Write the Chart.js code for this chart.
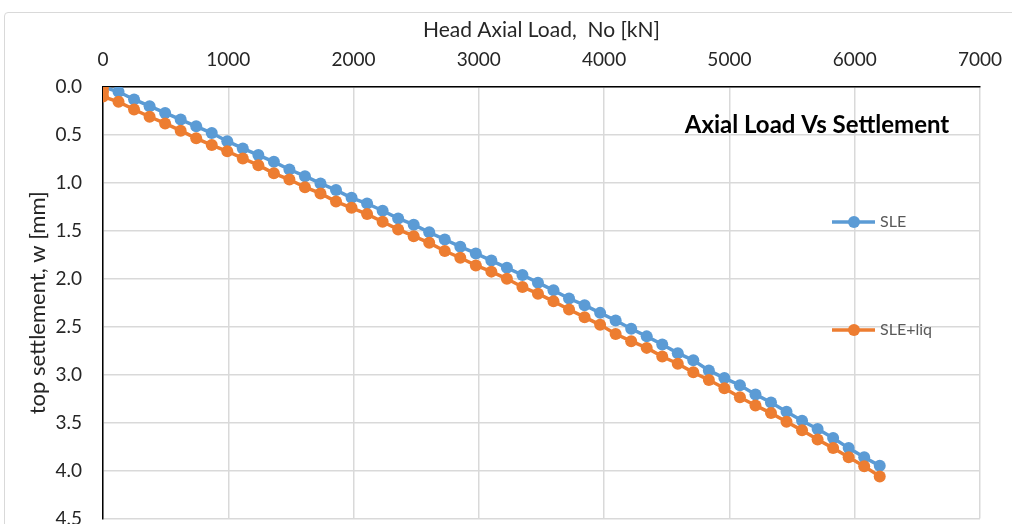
<!DOCTYPE html>
<html>
<head>
<meta charset="utf-8">
<script src="https://cdn.jsdelivr.net/npm/chart.js@4.4.1/dist/chart.umd.min.js"></script>
<style>
    body { margin: 0; background: #fff; overflow: hidden; }
    #wrap { position: relative; width: 1012px; height: 524px; overflow: hidden; }
    #frame { position: absolute; left: 4px; top: 12px; width: 1100px; height: 600px; border: 1px solid #d9d9d9; border-radius: 4px; }
    #myChart { position: absolute; left: 0; top: 0; }
</style>
</head>
<body>
<div id="wrap">
    <div id="frame"></div>
    <canvas id="myChart" width="1018" height="551"></canvas>
</div>
<script>
// Head axial load [kN] for each step
const loadSLE = [0, 124, 248, 372, 496, 620, 744, 868, 992, 1116, 1240, 1364, 1488, 1612, 1736, 1860, 1984,
    2108, 2232, 2356, 2480, 2604, 2728, 2852, 2976, 3100, 3224, 3348, 3472, 3596, 3720, 3844, 3968,
    4092, 4216, 4340, 4464, 4588, 4712, 4836, 4960, 5084, 5208, 5332, 5456, 5580, 5704, 5828, 5952, 6076, 6200];
const settleSLE = [0.00, 0.05, 0.13, 0.20, 0.27, 0.34, 0.41, 0.48, 0.565, 0.64, 0.71, 0.78, 0.86, 0.93, 1.005, 1.075, 1.155,
    1.215, 1.29, 1.37, 1.435, 1.515, 1.59, 1.665, 1.735, 1.81, 1.885, 1.96, 2.04, 2.12, 2.205, 2.275, 2.355,
    2.435, 2.52, 2.60, 2.685, 2.775, 2.85, 2.955, 3.035, 3.11, 3.205, 3.29, 3.385, 3.48, 3.565, 3.66, 3.765, 3.86, 3.95];

const loadLiq = [0, 0, 0, 124, 248, 372, 496, 620, 744, 868, 992, 1116, 1240, 1364, 1488, 1612, 1736, 1860, 1984,
    2108, 2232, 2356, 2480, 2604, 2728, 2852, 2976, 3100, 3224, 3348, 3472, 3596, 3720, 3844, 3968,
    4092, 4216, 4340, 4464, 4588, 4712, 4836, 4960, 5084, 5208, 5332, 5456, 5580, 5704, 5828, 5952, 6076, 6200];
const settleLiq = [0.00, 0.05, 0.10, 0.155, 0.235, 0.31, 0.38, 0.455, 0.535, 0.605, 0.67, 0.745, 0.815, 0.90, 0.965, 1.045, 1.11, 1.195, 1.26,
    1.325, 1.405, 1.485, 1.555, 1.625, 1.71, 1.78, 1.86, 1.925, 2.00, 2.085, 2.155, 2.235, 2.32, 2.40, 2.48,
    2.575, 2.65, 2.72, 2.81, 2.885, 2.975, 3.055, 3.14, 3.235, 3.32, 3.40, 3.49, 3.58, 3.675, 3.765, 3.86, 3.955, 4.06];

const seriesNames = ['SLE', 'SLE+liq'];
const xTitle = 'Head Axial Load,  No [kN]';
const yTitle = 'top settlement, w [mm]';
const chartTitle = 'Axial Load Vs Settlement';

const FONT = "Lato, sans-serif";
const BLUE = '#5b9bd5';
const ORANGE = '#ed7d31';

// legend and title sit inside the plot, drawn by hand
const insideLabels = {
    id: 'insideLabels',
    afterDraw(chart) {
        const ctx = chart.ctx;
        ctx.save();
        ctx.fillStyle = '#000';
        ctx.font = `bold 24px ${FONT}`;
        ctx.textAlign = 'center';
        ctx.textBaseline = 'middle';
        ctx.fillText(chartTitle, 817, 125);

        const rows = [222, 330];
        chart.data.datasets.forEach((ds, i) => {
            const y = rows[i];
            ctx.strokeStyle = ds.borderColor;
            ctx.lineWidth = 3.5;
            ctx.beginPath();
            ctx.moveTo(832, y);
            ctx.lineTo(875, y);
            ctx.stroke();
            ctx.fillStyle = ds.borderColor;
            ctx.beginPath();
            ctx.arc(854, y, 6, 0, Math.PI * 2);
            ctx.fill();
            ctx.fillStyle = '#595959';
            ctx.font = `16px ${FONT}`;
            ctx.textAlign = 'left';
            ctx.fillText(ds.label, 880, y);
        });
        ctx.restore();
    }
};

const ctx = document.getElementById('myChart').getContext('2d');
const chart = new Chart(ctx, {
    type: 'line',
    data: {
        datasets: [{
            label: seriesNames[0],
            data: loadSLE.map((x, i) => ({ x: x, y: settleSLE[i] })),
            borderColor: BLUE,
            backgroundColor: BLUE,
            borderWidth: 3.5,
            pointRadius: 6,
            pointBorderWidth: 0,
            pointBackgroundColor: BLUE,
            order: 1
        }, {
            label: seriesNames[1],
            data: loadLiq.map((x, i) => ({ x: x, y: settleLiq[i] })),
            borderColor: ORANGE,
            backgroundColor: ORANGE,
            borderWidth: 3.5,
            pointRadius: 6,
            pointBorderWidth: 0,
            pointBackgroundColor: ORANGE,
            order: 0
        }]
    },
    options: {
        responsive: false,
        animation: false,
        layout: { padding: 0 },
        plugins: {
            legend: { display: false },
            tooltip: { enabled: false }
        },
        scales: {
            x: {
                type: 'linear',
                position: 'top',
                min: 0,
                max: 7000,
                afterFit: s => { s.height = 87; },
                ticks: {
                    stepSize: 1000,
                    autoSkip: false,
                    maxRotation: 0,
                    padding: 16,
                    color: '#262626',
                    font: { family: FONT, size: 19 },
                    callback: v => String(v)
                },
                grid: { color: '#d9d9d9', lineWidth: 1.5, drawTicks: false },
                border: { color: '#000', width: 1.5 },
                title: {
                    display: true,
                    text: xTitle,
                    color: '#262626',
                    font: { family: FONT, size: 21 },
                    padding: { top: 18, bottom: 0 }
                }
            },
            y: {
                type: 'linear',
                reverse: true,
                min: 0,
                max: 4.5,
                afterFit: s => { s.width = 103; },
                ticks: {
                    stepSize: 0.5,
                    padding: 21,
                    color: '#262626',
                    font: { family: FONT, size: 19 },
                    callback: v => Number(v).toFixed(1)
                },
                grid: { color: '#d9d9d9', lineWidth: 1.5, drawTicks: false },
                border: { color: '#000', width: 1.5 },
                title: {
                    display: true,
                    text: yTitle,
                    color: '#262626',
                    font: { family: FONT, size: 22 },
                    padding: { top: 25, bottom: 0 }
                }
            }
        }
    },
    plugins: [insideLabels]
});
</script>
</body>
</html>
